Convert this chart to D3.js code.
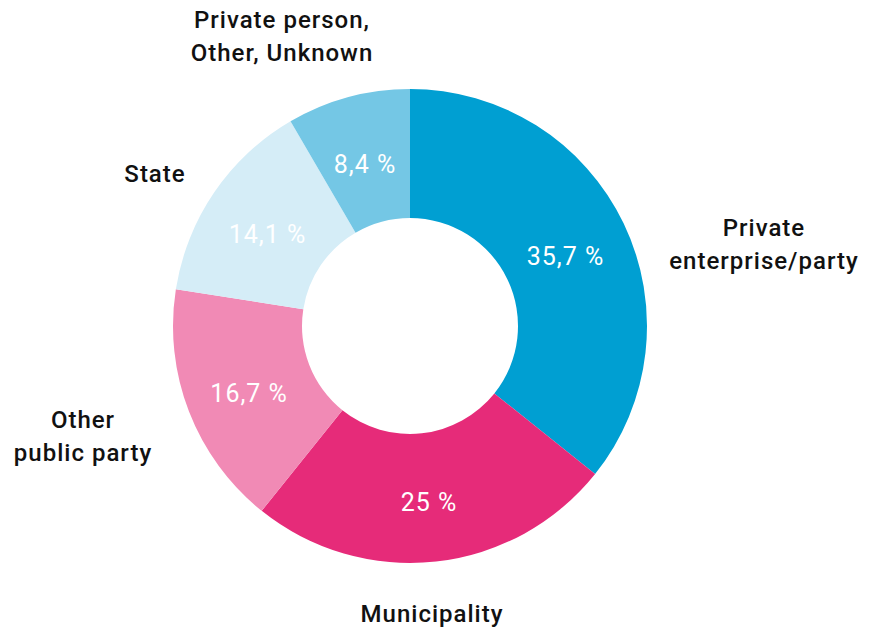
<!DOCTYPE html>
<html>
<head>
<meta charset="utf-8">
<script src="https://cdn.jsdelivr.net/npm/d3@7"></script>
<style>
  html, body { margin: 0; padding: 0; background: #ffffff; }
  svg { display: block; }
  text { font-family: Roboto, "DejaVu Sans", sans-serif; letter-spacing: 1px; }
  text.cat { font-weight: 500; }
  text.value { font-weight: 400; }
</style>
</head>
<body>
<svg id="chart" width="869" height="632"></svg>
<script>
// Ownership shares (percent), clockwise from twelve o'clock
const categories = ["Private enterprise/party", "Municipality", "Other public party", "State", "Private person, Other, Unknown"];
const shares = [35.7, 25, 16.7, 14.1, 8.4];
const shareLabels = ["35,7 %", "25 %", "16,7 %", "14,1 %", "8,4 %"];
const categoryLines = [
  ["Private", "enterprise/party"],
  ["Municipality"],
  ["Other", "public party"],
  ["State"],
  ["Private person,", "Other, Unknown"]
];
const colors = ["#009fd2", "#e62b79", "#f18ab5", "#d5edf7", "#74c7e5"];

// Layout
const W = 869, H = 632;
const cx = 410, cy = 326;
const outerR = 237, innerR = 108;
const fontSize = 24;
const valueFontSize = 25;
const lineGap = 33;
// outer label anchors: [x, first baseline y, anchor]
const outerPos = [
  [764, 236, "middle"],
  [432, 622, "middle"],
  [83, 428, "middle"],
  [155, 182, "middle"],
  [282, 28, "middle"]
];

const svg = d3.select("#chart");
const g = svg.append("g").attr("transform", `translate(${cx},${cy})`);

const pie = d3.pie().value(d => d).sort(null);
const arc = d3.arc().innerRadius(innerR).outerRadius(outerR);
const arcs = pie(shares);

g.selectAll("path.slice")
  .data(arcs)
  .join("path")
  .attr("class", "slice")
  .attr("d", arc)
  .attr("fill", (d, i) => colors[i]);

g.selectAll("text.value")
  .data(arcs)
  .join("text")
  .attr("class", "value")
  .attr("transform", d => `translate(${arc.centroid(d)})`)
  .attr("text-anchor", "middle")
  .attr("dy", "0.56em")
  .attr("fill", "#ffffff")
  .attr("font-size", valueFontSize)
  .text((d, i) => shareLabels[i]);

const labels = svg.selectAll("text.cat")
  .data(categoryLines)
  .join("text")
  .attr("class", "cat")
  .attr("x", (d, i) => outerPos[i][0])
  .attr("y", (d, i) => outerPos[i][1])
  .attr("text-anchor", (d, i) => outerPos[i][2])
  .attr("fill", "#111111")
  .attr("font-size", fontSize);

labels.each(function(lines, i) {
  d3.select(this).selectAll("tspan")
    .data(lines)
    .join("tspan")
    .attr("x", outerPos[i][0])
    .attr("dy", (d, j) => j === 0 ? 0 : lineGap)
    .text(d => d);
});
</script>
</body>
</html>
